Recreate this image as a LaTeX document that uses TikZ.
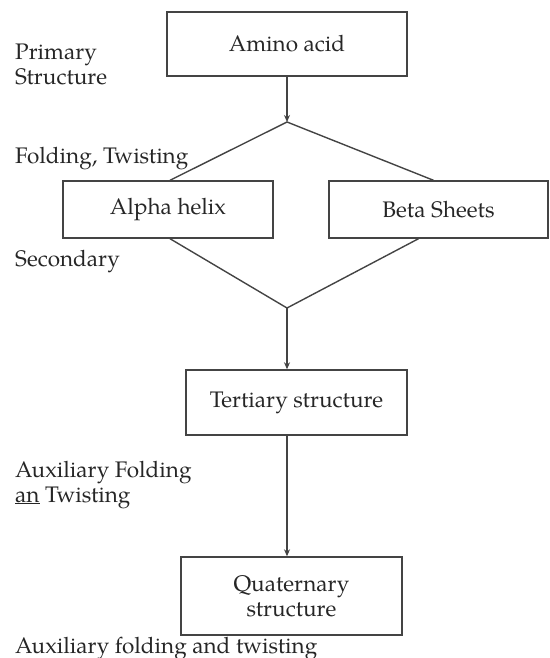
\documentclass[tikz,border=0pt]{standalone}
\usepackage{fontspec}
\setmainfont{TeX Gyre Pagella}
\usetikzlibrary{arrows.meta}

\definecolor{inkgray}{HTML}{262626}
\definecolor{linegray}{HTML}{444444}

\tikzset{
    stagebox/.style={
        draw=linegray, line width=1.4pt, align=center,
        text=inkgray, inner sep=0pt
    },
    sidelabel/.style={
        anchor=base west, align=left, text=inkgray, inner sep=0pt
    },
    flow/.style={
        draw=linegray, line width=1.4pt
    },
    flowarrow/.style={
        flow, -{Stealth[length=7pt,width=6pt]}
    }
}

\begin{document}
\begin{tikzpicture}[
        x=1pt, y=-1pt,
        every node/.style={
            font=\fontsize{22.5}{25}\selectfont
        }
    ]
        \useasboundingbox (0,0) rectangle (549,658);

        % Boxes
        \node[stagebox, minimum width=240pt, minimum height=64pt] (amino) at (287,44) {Amino acid};
        \node[stagebox, minimum width=210pt, minimum height=57pt] (alpha) at (168,209.5) {Alpha helix};
        \node[stagebox, minimum width=219pt, minimum height=57pt] (beta) at (438.5,209.5) {Beta Sheets};
        \node[stagebox, minimum width=221pt, minimum height=65pt] (tertiary) at (296.5,402.5) {Tertiary structure};
        \node[stagebox, minimum width=221pt, minimum height=78pt] (quaternary) at (291.5,596) {Quaternary\\structure};

        % Split and merge points
        \coordinate (split) at (287,122);
        \coordinate (merge) at (287,308);

        % Connectors
        \draw[flowarrow] (amino.south) -- (split);
        \draw[flow] ([xshift=2pt]alpha.north) -- (split) -- ([xshift=-5pt]beta.north);
        \draw[flow] ([xshift=2pt]alpha.south) -- (merge) -- ([xshift=-20pt]beta.south);
        \draw[flowarrow] (merge) -- (merge |- tertiary.north);
        \draw[flowarrow] (tertiary.south -| merge) -- (merge |- quaternary.north);

        % Side labels
        \node[sidelabel] (lblprimary) at (15,60) {Primary};
        \node[sidelabel] (lblstructure) at (15,85) {Structure};
        \node[sidelabel] (lblfolding) at (15,163) {Folding, Twisting};
        \node[sidelabel] (lblsecondary) at (15,266) {Secondary};
        \node[sidelabel] (lblauxone) at (15,477) {Auxiliary Folding};
        \node[sidelabel] (lblauxtwo) at (15,502) {\underline{an} Twisting};
        \node[sidelabel] (lblauxthree) at (15,653) {Auxiliary folding and twisting};

\end{tikzpicture}
\end{document}
